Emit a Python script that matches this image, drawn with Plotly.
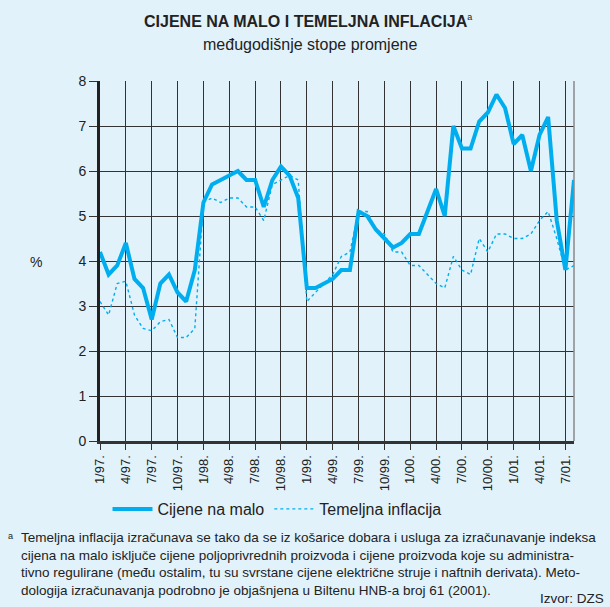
import plotly.graph_objects as go

cijene = [4.2, 3.7, 3.9, 4.4, 3.6, 3.4, 2.7, 3.5, 3.7, 3.3, 3.1, 3.8,
          5.3, 5.7, 5.8, 5.9, 6.0, 5.8, 5.8, 5.2, 5.8, 6.1, 5.9, 5.4,
          3.4, 3.4, 3.5, 3.6, 3.8, 3.8, 5.1, 5.0, 4.7, 4.5, 4.3, 4.4,
          4.6, 4.6, 5.1, 5.6, 5.0, 7.0, 6.5, 6.5, 7.1, 7.3, 7.7, 7.4,
          6.6, 6.8, 6.0, 6.8, 7.2, 4.9, 3.8, 5.8]
temeljna = [3.1, 2.8, 3.5, 3.55, 2.8, 2.5, 2.45, 2.65, 2.7, 2.3, 2.3, 2.5,
            5.3, 5.4, 5.3, 5.4, 5.4, 5.2, 5.2, 4.9, 5.7, 5.8, 5.9, 5.8,
            3.1, 3.3, 3.5, 3.7, 4.1, 4.2, 5.1, 5.1, 4.7, 4.6, 4.2, 4.2,
            3.9, 3.9, 3.7, 3.5, 3.4, 4.1, 3.8, 3.7, 4.5, 4.2, 4.6, 4.6,
            4.5, 4.5, 4.6, 4.9, 5.1, 4.5, 3.8, 3.9]
tick_labels = ["1/97.", "4/97.", "7/97.", "10/97.", "1/98.", "4/98.", "7/98.", "10/98.",
               "1/99.", "4/99.", "7/99.", "10/99.", "1/00.", "4/00.", "7/00.", "10/00.",
               "1/01.", "4/01.", "7/01."]

FONT = "Liberation Sans Narrow, Liberation Sans, Arial, sans-serif"
BG = "#e1f2fb"
BLUE = "#00aeef"
TXT = "#222"

W, H = 610, 607
ML, MR, MT, MB = 100, 36, 81, 166


def px(xp):
    return (xp - ML) / (W - ML - MR)


def py(yp):
    return (H - MB - yp) / (H - MT - MB)


x = list(range(len(cijene)))
fig = go.Figure()
fig.add_trace(go.Scatter(x=x, y=cijene, mode="lines", name="Cijene na malo",
                         line=dict(color=BLUE, width=4)))
fig.add_trace(go.Scatter(x=x, y=temeljna, mode="lines", name="Temeljna inflacija",
                         line=dict(color=BLUE, width=1.4, dash="dot")))

fig.update_layout(
    width=W, height=H,
    paper_bgcolor=BG, plot_bgcolor=BG,
    margin=dict(l=ML, r=MR, t=MT, b=MB),
    font=dict(family=FONT, size=13, color=TXT),
    showlegend=True,
    legend=dict(orientation="h", x=px(277), xanchor="center", y=py(509), yanchor="middle",
                font=dict(size=16, family=FONT, color=TXT), bgcolor="rgba(0,0,0,0)",
                itemwidth=40, tracegroupgap=0),
    xaxis=dict(range=[0, 55], tickvals=list(range(0, 55, 3)), ticktext=tick_labels,
               tickangle=-90, showgrid=True, gridcolor="#333", gridwidth=1.2,
               ticks="outside", ticklen=6, tickcolor="#333", tickwidth=1.2,
               showline=True, linecolor="#333", linewidth=3,
               tickfont=dict(size=13, family=FONT, color=TXT), zeroline=False),
    yaxis=dict(range=[0, 8], tickvals=list(range(0, 9)), showgrid=True,
               gridcolor="#333", gridwidth=1.2, ticks="outside", ticklen=8,
               tickcolor="#333", tickwidth=1.2, showline=True, linecolor=TXT,
               linewidth=3, zeroline=False,
               tickfont=dict(size=14, family=FONT, color=TXT)),
)

fig.add_shape(type="line", xref="paper", yref="paper", x0=1, x1=1, y0=0, y1=1,
              line=dict(color="#888", width=1.5))

fig.add_annotation(text="<b>CIJENE NA MALO I TEMELJNA INFLACIJA</b><sup><span style='font-size:9px'>a</span></sup>",
                   xref="paper", yref="paper", x=px(308), y=py(21), xanchor="center",
                   yanchor="middle", showarrow=False, font=dict(size=16, family=FONT, color=TXT))
fig.add_annotation(text="međugodišnje stope promjene", xref="paper", yref="paper",
                   x=px(310), y=py(45), xanchor="center", yanchor="middle", showarrow=False,
                   font=dict(size=16, family=FONT, color=TXT))
fig.add_annotation(text="%", xref="paper", yref="paper", x=px(36), y=py(262),
                   xanchor="center", yanchor="middle", showarrow=False,
                   font=dict(size=14, family=FONT, color=TXT))

foot = ("Temeljna inflacija izračunava se tako da se iz košarice dobara i usluga za izračunavanje indeksa<br>"
        "cijena na malo isključe cijene poljoprivrednih proizvoda i cijene proizvoda koje su administra-<br>"
        "tivno regulirane (među ostalim, tu su svrstane cijene električne struje i naftnih derivata). Meto-<br>"
        "dologija izračunavanja podrobno je objašnjena u Biltenu HNB-a broj 61 (2001).")
fig.add_annotation(text=foot, xref="paper", yref="paper", x=px(19), y=py(528),
                   xanchor="left", yanchor="top", align="left", showarrow=False,
                   font=dict(size=13.5, family=FONT, color=TXT))
fig.add_annotation(text="<sup>a</sup>", xref="paper", yref="paper", x=px(6), y=py(529),
                   xanchor="left", yanchor="top", showarrow=False,
                   font=dict(size=13, family=FONT, color=TXT))
fig.add_annotation(text="Izvor: DZS", xref="paper", yref="paper", x=px(606), y=py(598),
                   xanchor="right", yanchor="middle", showarrow=False,
                   font=dict(size=13.5, family=FONT, color=TXT))

fig.write_html("out.html", config={"displayModeBar": False},
               post_script="document.body.style.margin='0';")
